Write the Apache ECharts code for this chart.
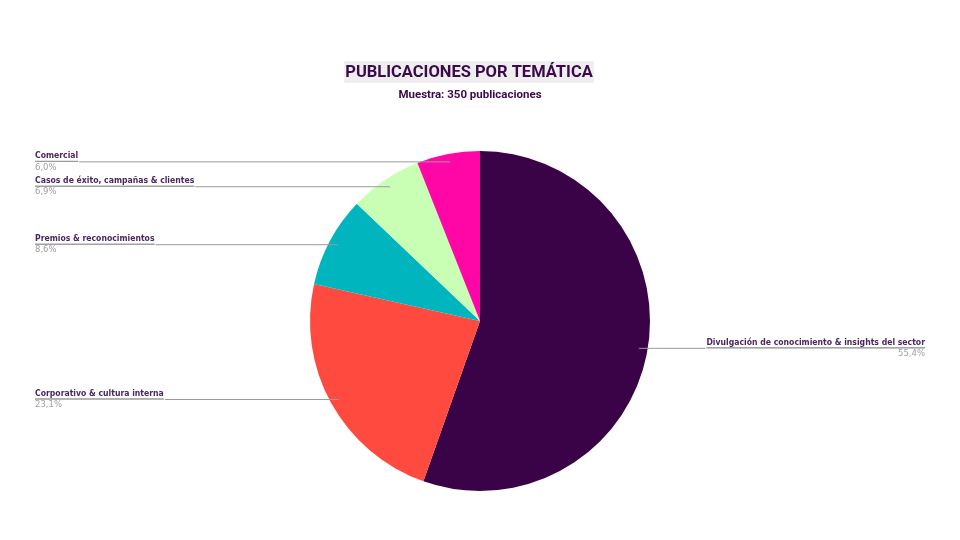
<!DOCTYPE html>
<html>
<head>
<meta charset="utf-8">
<script src="https://cdn.jsdelivr.net/npm/echarts@6/dist/echarts.min.js"></script>
<style>
  html, body { margin: 0; padding: 0; background: #fff; }
  #chart { width: 960px; height: 540px; }
</style>
</head>
<body>
<div id="chart"></div>
<script>
  // categorías y porcentajes (sentido horario desde arriba)
  const categorias = [
    'Divulgación de conocimiento & insights del sector',
    'Corporativo & cultura interna',
    'Premios & reconocimientos',
    'Casos de éxito, campañas & clientes',
    'Comercial'
  ];
  const porcentajes = [55.4, 23.1, 8.6, 6.9, 6.0];
  const colores = ['#3a0347', '#ff4a40', '#00b5be', '#c9ffb4', '#ff06a7'];

  const datos = categorias.map((c, i) => ({ name: c, value: porcentajes[i] }));

  let myChart = echarts.init(document.getElementById('chart'));
  myChart.setOption({
    title: [
      {
        text: '{t|PUBLICACIONES POR TEMÁTICA}',
        left: 464,
        top: 56,
        textAlign: 'center',
        textStyle: {
          rich: {
            t: {
              fontFamily: 'Roboto',
              fontSize: 16.5,
              fontWeight: 'bold',
              color: '#3a0a4a',
              backgroundColor: '#eeeeee',
              padding: [3, 1, 2, 1]
            }
          }
        }
      },
      {
        text: 'Muestra: 350 publicaciones',
        left: 465,
        top: 84,
        textAlign: 'center',
        textStyle: {
          fontFamily: 'Roboto',
          fontSize: 11.5,
          fontWeight: 'bold',
          color: '#3a0a4a'
        }
      }
    ],
    series: [
      // tarta visible
      {
        type: 'pie',
        z: 1,
        center: [480, 321],
        radius: 170,
        startAngle: 90,
        clockwise: true,
        silent: true,
        color: colores,
        label: { show: false },
        labelLine: { show: false },
        data: datos
      },
      // tarta transparente solo para etiquetas (la línea empieza dentro)
      {
        type: 'pie',
        z: 5,
        center: [480, 321],
        radius: 161,
        startAngle: 90,
        clockwise: true,
        silent: true,
        avoidLabelOverlap: true,
        itemStyle: { color: 'rgba(0,0,0,0)' },
        label: {
          show: true,
          position: 'outside',
          alignTo: 'edge',
          edgeDistance: 35,
          distanceToLabelLine: 0,
          formatter: p => '{n|' + p.name + '}\n{hr|}\n{p|' + p.value.toFixed(1).replace('.', ',') + '%}',
          rich: {
            n: { fontSize: 8.6, fontWeight: 'bold', color: '#4b2660', lineHeight: 11, fontFamily: 'DejaVu Sans Condensed' },
            hr: { width: '100%', height: 0, borderColor: '#9a9a9a', borderWidth: 1 },
            p: { fontSize: 8.5, color: '#a0a0a0', lineHeight: 12, fontFamily: 'DejaVu Sans' }
          }
        },
        labelLine: {
          show: true,
          showAbove: true,
          length: 1,
          length2: 10,
          lineStyle: { color: '#9a9a9a', width: 1, opacity: 1 }
        },
        data: datos
      }
    ]
  });
</script>
</body>
</html>
